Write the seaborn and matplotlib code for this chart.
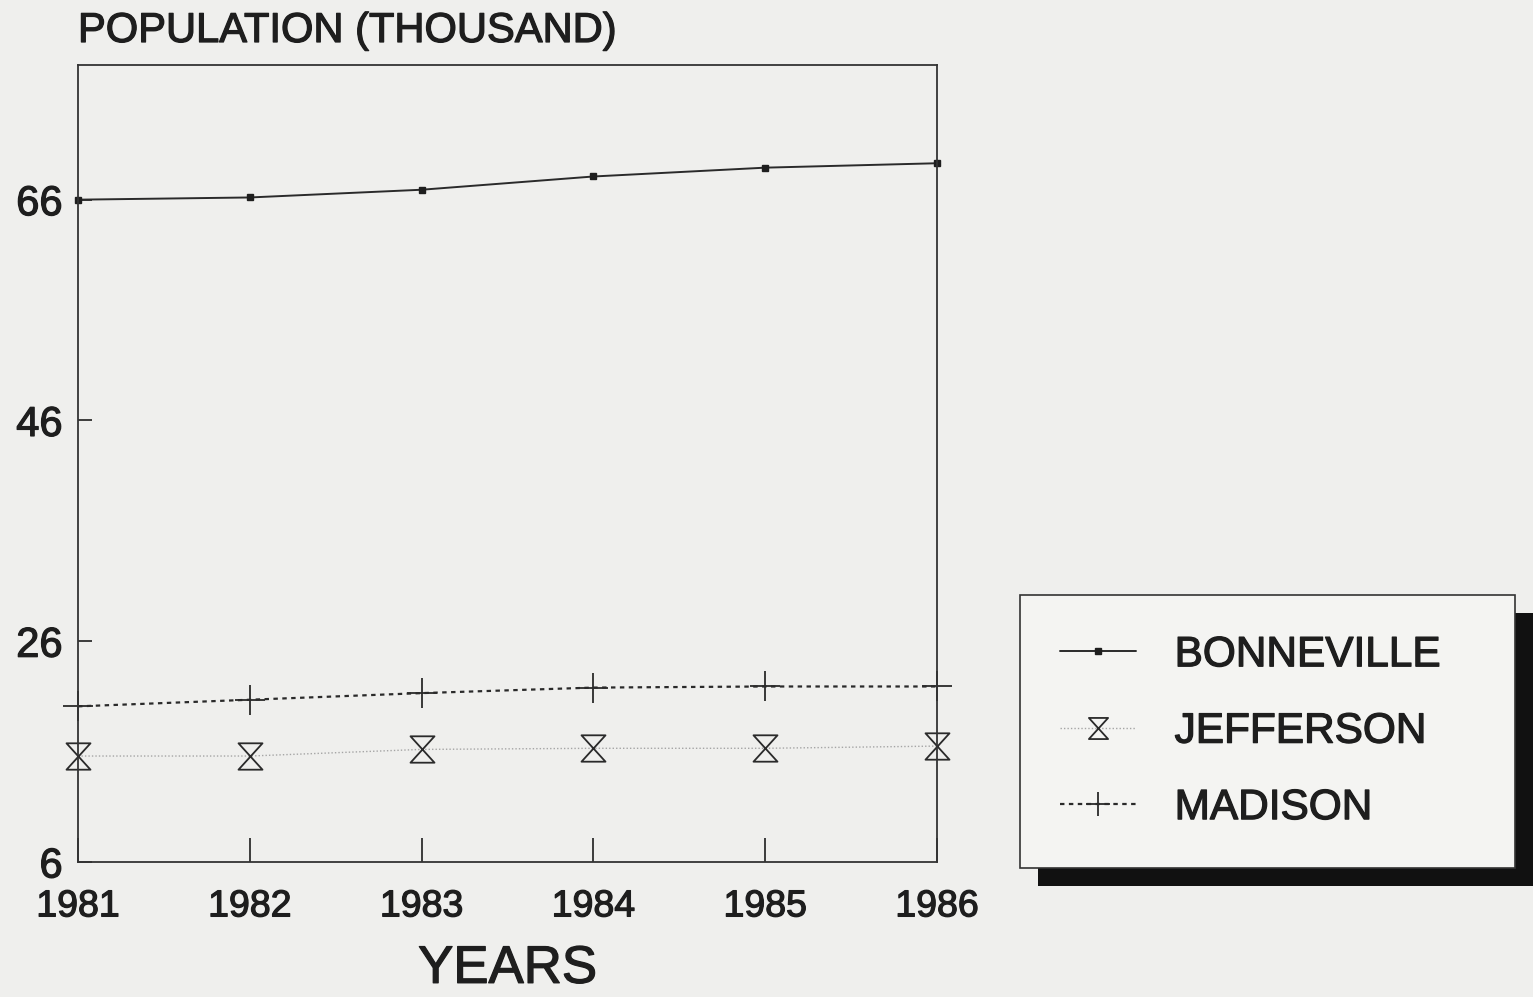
import numpy as np
import pandas as pd
import matplotlib
matplotlib.use("Agg")
import matplotlib.pyplot as plt
import matplotlib.patheffects as pe
import seaborn as sns
from matplotlib.path import Path
from matplotlib.patches import Rectangle

# data (population, thousands)
years = [1981, 1982, 1983, 1984, 1985, 1986]
bonneville = [66.0, 66.2, 66.9, 68.1, 68.9, 69.3]
jefferson = [15.6, 15.6, 16.2, 16.3, 16.3, 16.5]
madison = [20.1, 20.7, 21.3, 21.8, 21.9, 21.9]
y_ticks = [6, 26, 46, 66]

sns.set_theme(style="white")
plt.rcParams['font.family'] = ['Liberation Sans', 'DejaVu Sans']

bg = '#efefed'
ink = '#1e1e1e'
bold = [pe.withStroke(linewidth=0.9, foreground=ink)]

# hourglass marker
hourglass = Path([(-0.5, 0.55), (0.5, 0.55), (-0.5, -0.55), (0.5, -0.55), (-0.5, 0.55)],
                 [Path.MOVETO, Path.LINETO, Path.LINETO, Path.LINETO, Path.CLOSEPOLY])

fig = plt.figure(figsize=(15.33, 9.97), dpi=100, facecolor=bg)
ax = fig.add_axes([78/1533, 1-862/997, (937-78)/1533, (862-65)/997])
ax.set_facecolor(bg)

sns.lineplot(x=years, y=bonneville, ax=ax, color='#2a2a2a', lw=1.4, ls='-',
             marker='s', markersize=5, mfc=ink, mec=ink, mew=1,
             label='BONNEVILLE', clip_on=False)
sns.lineplot(x=years, y=jefferson, ax=ax, color='#a5a5a5', lw=1.0, ls=(0, (1, 1.5)),
             marker=hourglass, markersize=19, mfc='none', mec='#2a2a2a', mew=1.3,
             label='JEFFERSON', clip_on=False)
sns.lineplot(x=years, y=madison, ax=ax, color='#2a2a2a', lw=1.6, ls=(0, (2, 2)),
             marker='+', markersize=22, mec='#2a2a2a', mew=1.3,
             label='MADISON', clip_on=False)

ax.set_xlim(1981, 1986)
ax.set_ylim(6, 78.2)
ax.set_xticks(years)
ax.set_xticklabels([str(y) for y in years])
ax.set_yticks(y_ticks)
ax.tick_params(axis='x', direction='in', length=17, width=1.2, color=ink,
               labelsize=27, pad=19, labelcolor=ink)
ax.tick_params(axis='y', direction='in', length=10, width=1.2, color=ink,
               labelsize=30, pad=11, labelcolor=ink)
ax.tick_params(top=False, right=False, bottom=True, left=True)
for lab in ax.get_xticklabels() + ax.get_yticklabels():
    lab.set_path_effects(bold)
for s in ax.spines.values():
    s.set_color('#333333')
    s.set_linewidth(1.3)
ax.set_xlabel('YEARS', fontsize=38, color=ink, labelpad=14, path_effects=bold)
ax.set_ylabel('')

fig.text(78/1533, 1-42/997, 'POPULATION (THOUSAND)', fontsize=30, color=ink,
         ha='left', va='baseline', path_effects=bold)

handles, labels = ax.get_legend_handles_labels()
ax.get_legend().remove()
leg = fig.legend(handles, labels, loc='upper left',
                 bbox_to_anchor=(1020/1533, 1-595/997, 495/1533, 0),
                 bbox_transform=fig.transFigure, mode='expand', borderaxespad=0,
                 fontsize=30.5, frameon=True, fancybox=False, borderpad=0.95,
                 labelspacing=0.86, handlelength=1.8, handletextpad=0.9,
                 markerscale=0.8, labelcolor=ink)
leg.get_frame().set_facecolor('#f4f4f2')
leg.get_frame().set_edgecolor('#333333')
leg.get_frame().set_linewidth(1.2)
leg.get_frame().set_alpha(1)
leg.set_zorder(5)
for t in leg.get_texts():
    t.set_path_effects(bold)

# drop shadow behind the legend box
fig.canvas.draw()
bb = leg.get_window_extent()
off = 18
shadow = Rectangle(((bb.x0 + off)/fig.bbox.width, (bb.y0 - off)/fig.bbox.height),
                   bb.width/fig.bbox.width, bb.height/fig.bbox.height,
                   transform=fig.transFigure, facecolor='#111111', edgecolor='none',
                   zorder=1)
fig.patches.append(shadow)

fig.savefig('out.png', dpi=100, facecolor=bg)
